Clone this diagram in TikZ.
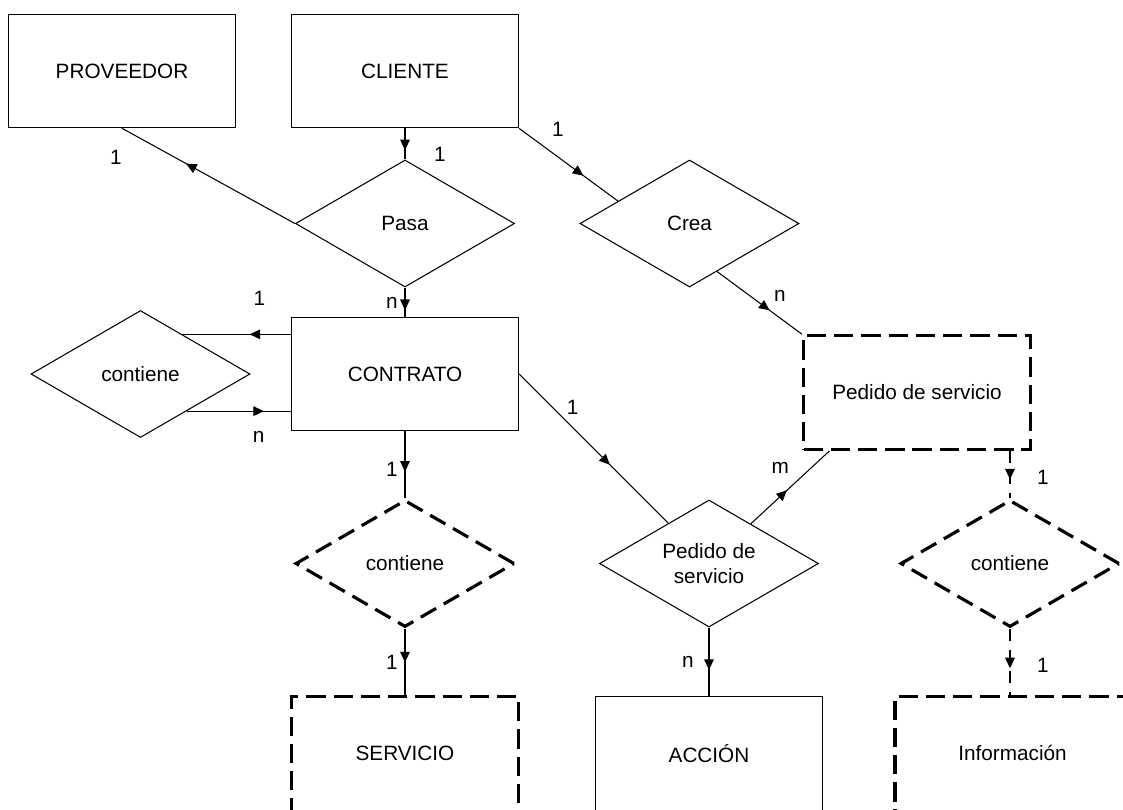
\documentclass[tikz,border=0pt]{standalone}
\usepackage{fontspec}
\setmainfont{Liberation Sans}
\usetikzlibrary{arrows.meta,shapes.geometric,decorations.markings,positioning,calc}
\tikzset{
    entidad/.style = {rectangle,
                    fill=none,
                    draw=black,
                    text=black,
                    line width=0.6pt,
                    inner sep=0pt,
                    minimum width=4.54cm,
                    minimum height=2.27cm},
    debil/.style =  {entidad,
                    line width=1.8pt,
                    dash pattern=on 11pt off 4.5pt},
    abajo/.style =  {minimum height=2.5cm,
                    text depth=.22cm},
    relacion/.style = {diamond,
                    draw=black,
                    text=black,
                    line width=0.6pt,
                    aspect=1.7,
                    inner sep=1pt,
                    align=center,
                    minimum width=4.38cm,
                    minimum height=2.54cm},
    reldebil/.style = {relacion,
                    line width=1.8pt,
                    dash pattern=on 10pt off 5pt},
    lbl/.style =    {inner sep=0pt,
                    text=black},
    flecha/.style = {postaction={decorate,
                    decoration={markings,
                    mark=at position #1 with {\arrow{Triangle[length=6pt,width=5.5pt]}}}}},
    conn/.style =   {line width=0.6pt, draw=black},
    guion/.style =  {conn, dash pattern=on 7pt off 5pt},
    every node/.style = {font=\fontsize{11.8}{14}\selectfont}}

\begin{document}
\begin{tikzpicture}[on grid]
    \useasboundingbox (-8.1,1.42) rectangle (14.36,-14.76);
                    \node[entidad]   (cli)  []                                    {CLIENTE};
                    \node[entidad]   (prov) [left=5.66cm of cli]                  {PROVEEDOR};
                    \node[relacion]  (pasa) [below=3.05cm of cli]                 {Pasa};
                    \node[relacion]  (crea) [right=5.69cm of pasa]                {Crea};
                    \node[entidad]   (contr) [below=3.01cm of pasa]               {CONTRATO};
                    \node[relacion]  (cizq) [left=5.29cm of contr]                {contiene};
                    \node[debil]     (pbox) [below right=3.38cm and 4.55cm of crea] {Pedido de servicio};
                    \node[reldebil]  (cuno) [below=3.79cm of contr]               {contiene};
                    \node[relacion]  (pdia) [right=6.08cm of cuno]                {Pedido de\\servicio};
                    \node[reldebil]  (cdos) [right=6.02cm of pdia]                {contiene};
                    \node[debil, abajo]   (serv) [below=3.905cm of cuno]          {SERVICIO};
                    \node[entidad, abajo] (acc)  [below=3.905cm of pdia]          {ACCIÓN};
                    \node[debil, abajo, minimum width=4.7cm] (info) [below right=3.905cm and 0.05cm of cdos] {Información};
                    % puntos en los bordes de los rombos
                    \coordinate (cs) at ($(cizq.north)!.38!(cizq.east)$);
                    \coordinate (ci) at ($(cizq.east)!.58!(cizq.south)$);
                    \draw[conn, flecha=.7]  (cli.south) -- node[lbl, pos=.84, xshift=.7cm] (l1) {1} (pasa.north);
                    \draw[conn, flecha=.63] (pasa.west) -- node[lbl, pos=.85, xshift=-.64cm, yshift=-.3cm] (l2) {1} (prov.south);
                    \draw[conn, flecha=.77] (pasa.south) -- node[lbl, pos=.53, xshift=-.26cm] (l3) {n} (contr.north);
                    \draw[conn, flecha=.65] (cli.south east) -- node[lbl, pos=.2, xshift=.38cm, yshift=.26cm] (l4) {1} ($(crea.west)!.35!(crea.north)$);
                    \draw[conn, flecha=.62] ($(crea.south)!.25!(crea.east)$) -- node[lbl, pos=.6, xshift=.24cm, yshift=.26cm] (l5) {n} (pbox.north west);
                    \draw[conn, flecha=.38] (cs -| contr.west) -- node[lbl, pos=.29, yshift=.72cm] (l6) {1} (cs);
                    \draw[conn, flecha=.74] (ci) -- node[lbl, pos=.69, yshift=-.52cm] (l7) {n} (ci -| contr.west);
                    \draw[conn, flecha=.6]  (contr.south) -- node[lbl, pos=.57, xshift=-.26cm] (l8) {1} (cuno.north);
                    \draw[conn, flecha=.51] (cuno.south) -- node[lbl, pos=.51, xshift=-.26cm] (l9) {1} (serv.north);
                    \draw[conn, flecha=.61] (contr.east) -- node[lbl, pos=.36, yshift=.4cm] (l10) {1} ($(pdia.west)!.63!(pdia.north)$);
                    \draw[conn, flecha=.46] ($(pdia.north)!.38!(pdia.east)$) -- node[lbl, pos=.5, xshift=-.2cm, yshift=.38cm] (l11) {m} ($(pbox.south west)!.12!(pbox.south east)$);
                    \draw[conn, flecha=.62] (pdia.south) -- node[lbl, pos=.51, xshift=-.42cm] (l12) {n} (acc.north);
                    \draw[guion, flecha=.6] (pbox.south -| cdos.north) -- node[lbl, pos=.56, xshift=.66cm] (l13) {1} (cdos.north);
                    \draw[guion, flecha=.6] (cdos.south) -- node[lbl, pos=.55, xshift=.66cm] (l14) {1} (info.north -| cdos.south);
\end{tikzpicture}
\end{document}
